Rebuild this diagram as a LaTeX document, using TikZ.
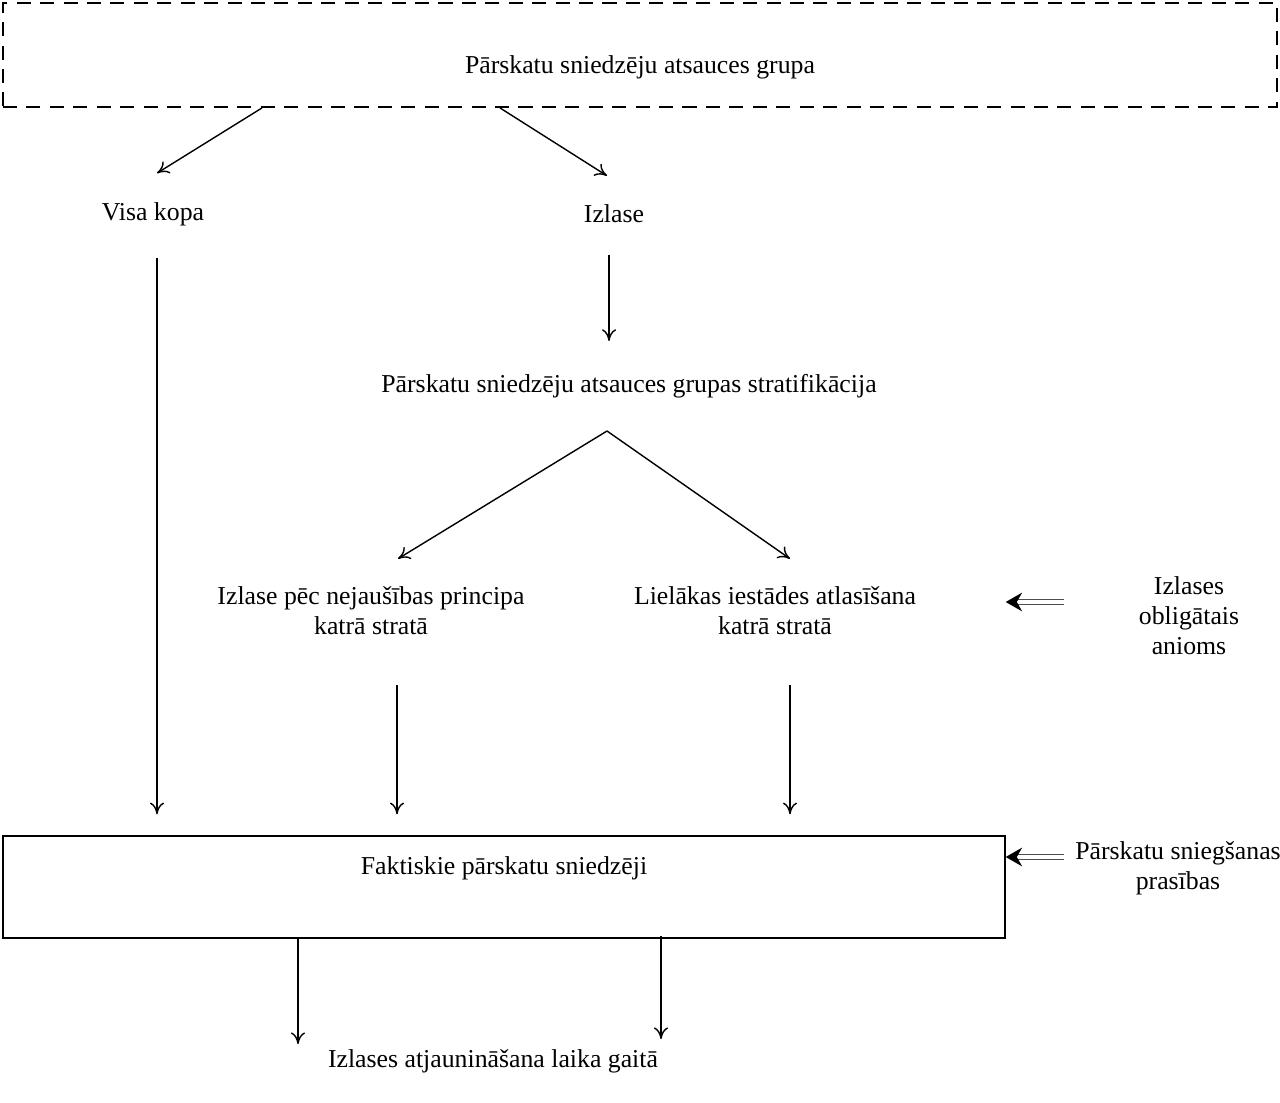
\documentclass[tikz,border=0pt]{standalone}
\usepackage{fontspec}
\setmainfont{Liberation Serif}
\usetikzlibrary{arrows.meta,positioning,calc}

\begin{document}
\begin{tikzpicture}[x=0.015cm, y=-0.015cm,
  font=\fontsize{11}{12.8}\selectfont,
  lbl/.style={align=center, inner sep=2pt},
  arr/.style={-{To[length=5pt,width=6pt]}, semithick},
  dblarr/.style={double, double distance=1.4pt, line width=0.5pt, draw=black!70, -{Stealth[length=7pt,width=8pt,black]}}]
  \useasboundingbox (0,0) rectangle (1280,1103);

  % top group and the two branches
  \node[draw, thick, dash pattern=on 6pt off 4pt, minimum width=19.11cm, minimum height=1.56cm, text height=19pt, text depth=3pt] (ref) at (640,55) {Pārskatu sniedzēju atsauces grupa};
  \node[lbl] (visa) at (153,214) {Visa kopa};
  \node[lbl] (izl) at (614,214) {Izlase};
  \node[lbl] (strat) at (629,386) {Pārskatu sniedzēju atsauces grupas stratifikācija};
  \node[lbl] (nej) at (371,611) {Izlase pēc nejaušības principa\\katrā stratā};
  \node[lbl] (liel) at (775,611) {Lielākas iestādes atlasīšana\\katrā stratā};
  \node[lbl] (oblig) at (1189,616) {Izlases\\obligātais\\anioms};

  % reporting agents box
  \node[draw, semithick, minimum width=15.03cm, minimum height=1.53cm, text height=11.8pt, text depth=22.2pt] (fakt) at (504,887) {Faktiskie pārskatu sniedzēji};
  \node[lbl] (prasib) at (1178,868) {Pārskatu sniegšanas\\prasības};
  \node[lbl] (atj) at (493,1061) {Izlases atjaunināšana laika gaitā};

  \draw[arr] ($(ref.south)+(-378,0)$) -- ($(visa.north)+(4,-24)$);
  \draw[arr] ($(ref.south)+(-140,0)$) -- ($(izl.north)+(-7,-24)$);
  \draw[arr] ($(visa.south)+(4,27)$) -- ($(visa.south |- fakt.north)+(4,-21)$);
  \draw[arr] ($(izl.south)+(-5,27)$) -- ($(strat.north)+(-20,-28)$);
  \draw[arr] ($(strat.south)+(-22,28)$) -- ($(nej.north)+(27,-23)$);
  \draw[arr] ($(strat.south)+(-22,28)$) -- ($(liel.north)+(15,-23)$);
  \draw[arr] ($(nej.south)+(26,45)$) -- ($(nej.south |- fakt.north)+(26,-21)$);
  \draw[arr] ($(liel.south)+(15,45)$) -- ($(liel.south |- fakt.north)+(15,-21)$);

  % requirements feeding in from the right
  \draw[dblarr] ($(oblig.west |- liel)+(-70,-9)$) -- ($(fakt.east |- liel)+(0,-9)$);
  \draw[dblarr] ($(prasib.west)+(-6,-11)$) -- ($(fakt.east)+(0,-30)$);

  \draw[arr] ($(fakt.south)+(-206,0)$) -- ($(fakt.south |- atj.north)+(-206,0)$);
  \draw[arr] ($(fakt.south)+(157,-3)$) -- ($(fakt.south |- atj.north)+(157,-5)$);
\end{tikzpicture}
\end{document}
